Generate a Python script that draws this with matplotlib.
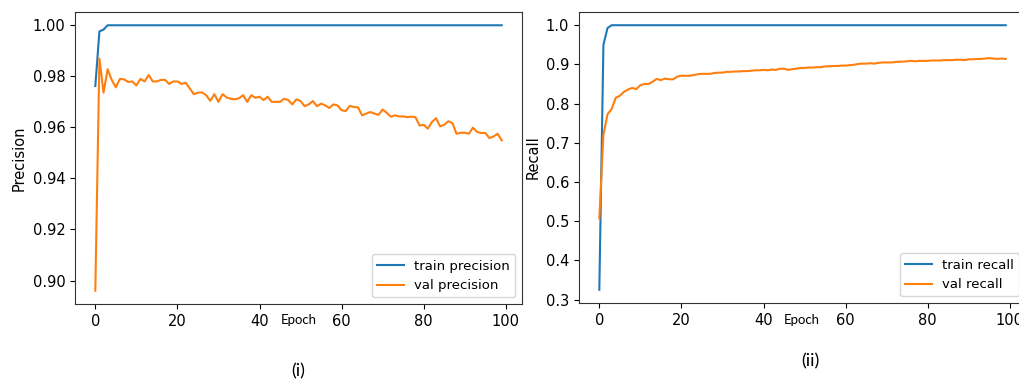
import matplotlib

matplotlib.use('Agg')
import matplotlib.pyplot as plt

epochs = list(range(100))

train_precision = [0.9762, 0.9976, 0.9983] + [1.0] * 97
val_precision = [
    0.896, 0.987, 0.9736, 0.9828, 0.9786, 0.9757, 0.979, 0.9788, 0.9778, 0.978,
    0.9764, 0.979, 0.978, 0.9805, 0.978, 0.978, 0.9786, 0.9786, 0.977, 0.978,
    0.978, 0.977, 0.9775, 0.9753, 0.973, 0.9736, 0.9737, 0.9726, 0.9704, 0.973,
    0.970, 0.973, 0.9717, 0.9712, 0.971, 0.9714, 0.9726, 0.970, 0.9726, 0.9716,
    0.972, 0.9707, 0.972, 0.970, 0.970, 0.970, 0.9712, 0.9707, 0.969, 0.971,
    0.9703, 0.9683, 0.969, 0.9703, 0.9683, 0.9693, 0.9686, 0.9676, 0.969, 0.9686,
    0.9667, 0.9664, 0.9684, 0.968, 0.9678, 0.9647, 0.9654, 0.966, 0.9654, 0.9649,
    0.967, 0.9657, 0.9642, 0.9647, 0.9643, 0.9643, 0.964, 0.9642, 0.964, 0.9607,
    0.961, 0.9595, 0.9621, 0.9636, 0.9604, 0.961, 0.9624, 0.9617, 0.9575, 0.9579,
    0.9579, 0.9575, 0.9599, 0.9582, 0.9578, 0.9578, 0.9558, 0.9564, 0.9575, 0.9549,
]

train_recall = [0.325, 0.95, 0.993] + [1.0] * 97
val_recall = [
    0.507, 0.72, 0.773, 0.786, 0.815, 0.82, 0.83, 0.836, 0.84, 0.837,
    0.847, 0.85, 0.85, 0.856, 0.863, 0.86, 0.864, 0.862, 0.862, 0.869,
    0.871, 0.871, 0.871, 0.873, 0.875, 0.876, 0.876, 0.876, 0.878, 0.879,
    0.879, 0.881, 0.881, 0.882, 0.882, 0.883, 0.883, 0.884, 0.885, 0.885,
    0.886, 0.885, 0.887, 0.886, 0.889, 0.889, 0.886, 0.888, 0.889, 0.891,
    0.891, 0.892, 0.892, 0.893, 0.893, 0.895, 0.895, 0.896, 0.896, 0.897,
    0.897, 0.898, 0.899, 0.901, 0.902, 0.902, 0.903, 0.902, 0.904, 0.905,
    0.905, 0.905, 0.906, 0.907, 0.907, 0.908, 0.909, 0.908, 0.909, 0.909,
    0.909, 0.910, 0.910, 0.910, 0.911, 0.911, 0.911, 0.912, 0.912, 0.911,
    0.913, 0.913, 0.914, 0.914, 0.915, 0.916, 0.915, 0.914, 0.915, 0.914,
]

plt.rcParams['xtick.labelsize'] = 10.5
plt.rcParams['ytick.labelsize'] = 10.5
plt.rcParams['axes.edgecolor'] = '#333333'

fig = plt.figure(figsize=(10.19, 3.83), dpi=100)

# 左: precision
ax1 = fig.add_axes([75 / 1019, 79 / 383, 447 / 1019, 292 / 383])
ax1.plot(epochs, train_precision, label='train precision')
ax1.plot(epochs, val_precision, label='val precision')
ax1.set_ylabel('Precision', fontsize=10.5)
ax1.legend(loc='lower right', fontsize=9.5)

# 右: recall (右端は画像で切れている)
ax2 = fig.add_axes([579 / 1019, 80 / 383, 447 / 1019, 291 / 383])
ax2.plot(epochs, train_recall, label='train recall')
ax2.plot(epochs, val_recall, label='val recall')
ax2.set_ylabel('Recall', fontsize=10.5)
ax2.legend(loc='lower right', fontsize=9.5)

for x in (299, 802):
    fig.text(x / 1019, 1 - 320 / 383, 'Epoch', ha='center', va='center',
             fontsize=9.5, family=['Lato', 'DejaVu Sans'])

fig.text(298 / 1019, 1 - 371 / 383, '(i)', ha='center', va='center',
         fontsize=13, family=['Lato', 'DejaVu Sans'])
fig.text(810 / 1019, 1 - 361 / 383, '(ii)', ha='center', va='center',
         fontsize=13, family=['Lato', 'DejaVu Sans'])

plt.savefig('out.png', dpi=100)
